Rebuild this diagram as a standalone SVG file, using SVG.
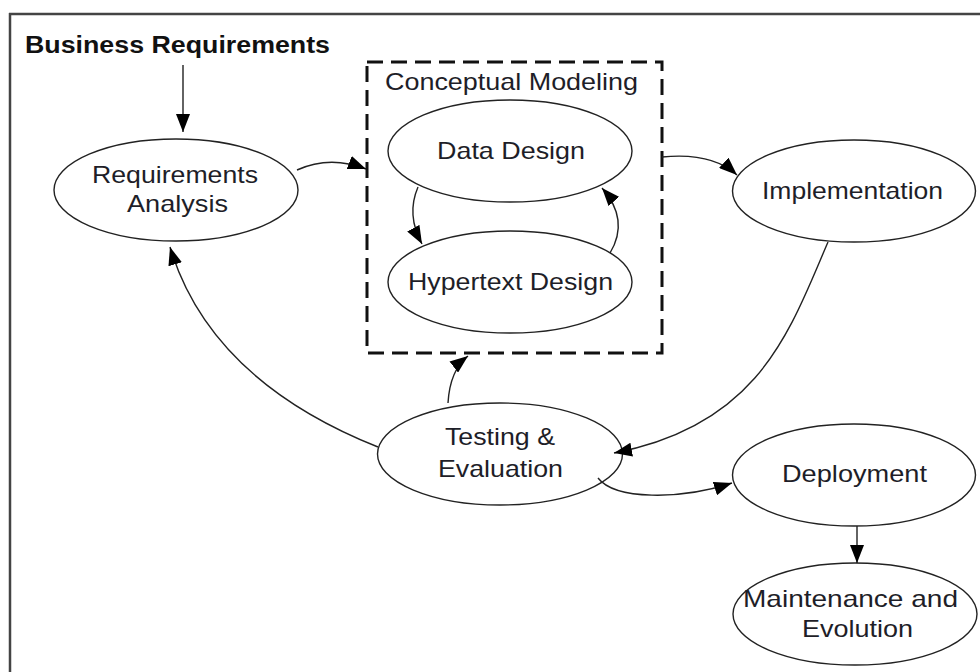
<svg xmlns="http://www.w3.org/2000/svg" width="980" height="672" viewBox="0 0 980 672">
<style>
.node{fill:#fff;stroke:#222;stroke-width:1.4}
.lbl{font-family:"Liberation Sans",Arial,sans-serif;font-size:24px;fill:#1e1e28}
.title{font-family:"Liberation Sans",Arial,sans-serif;font-size:23px;font-weight:bold;fill:#111}
.conn{fill:none;stroke:#222;stroke-width:1.4;marker-end:url(#ah)}
</style>
<defs>
<marker id="ah" viewBox="0 0 18 14" refX="18" refY="7" markerWidth="18" markerHeight="14" orient="auto" markerUnits="userSpaceOnUse">
<path d="M0,0 L18,7 L0,14 z" fill="#000"/>
</marker>
</defs>
<rect width="980" height="672" fill="#fff"/>
<g id="frame" stroke="#444" stroke-width="2.5" fill="none">
<line x1="9" y1="14" x2="980" y2="14"/>
<line x1="10" y1="13" x2="10" y2="672"/>
</g>
<g id="business-requirements">
<text class="title" x="25" y="53" textLength="305" lengthAdjust="spacingAndGlyphs">Business Requirements</text>
</g>
<g id="conceptual-modeling">
<rect x="367" y="62" width="295" height="291" fill="none" stroke="#111" stroke-width="3" stroke-dasharray="16 8"/>
<text class="lbl" x="385" y="90" textLength="253" lengthAdjust="spacingAndGlyphs">Conceptual Modeling</text>
</g>
<g id="requirements-analysis">
<ellipse class="node" cx="176" cy="190" rx="122" ry="51"/>
<text class="lbl" x="92" y="183" textLength="166" lengthAdjust="spacingAndGlyphs">Requirements</text>
<text class="lbl" x="127" y="212" textLength="101" lengthAdjust="spacingAndGlyphs">Analysis</text>
</g>
<g id="data-design">
<ellipse class="node" cx="510" cy="151" rx="122" ry="51"/>
<text class="lbl" x="437" y="159" textLength="148" lengthAdjust="spacingAndGlyphs">Data Design</text>
</g>
<g id="hypertext-design">
<ellipse class="node" cx="510" cy="282" rx="122" ry="51"/>
<text class="lbl" x="408" y="290" textLength="205" lengthAdjust="spacingAndGlyphs">Hypertext Design</text>
</g>
<g id="implementation">
<ellipse class="node" cx="854" cy="191" rx="121.5" ry="51"/>
<text class="lbl" x="762" y="199" textLength="181" lengthAdjust="spacingAndGlyphs">Implementation</text>
</g>
<g id="testing-evaluation">
<ellipse class="node" cx="500" cy="454" rx="122.5" ry="51"/>
<text class="lbl" x="445" y="445" textLength="110" lengthAdjust="spacingAndGlyphs">Testing &amp;</text>
<text class="lbl" x="438" y="477" textLength="125" lengthAdjust="spacingAndGlyphs">Evaluation</text>
</g>
<g id="deployment">
<ellipse class="node" cx="854" cy="475" rx="121.5" ry="51"/>
<text class="lbl" x="782" y="482" textLength="145" lengthAdjust="spacingAndGlyphs">Deployment</text>
</g>
<g id="maintenance-evolution">
<ellipse class="node" cx="855" cy="614" rx="122" ry="51"/>
<text class="lbl" x="743" y="607" textLength="215" lengthAdjust="spacingAndGlyphs">Maintenance and</text>
<text class="lbl" x="802" y="637" textLength="111" lengthAdjust="spacingAndGlyphs">Evolution</text>
</g>
<g id="connectors">
<path class="conn" d="M183,65 L183,132"/>
<path class="conn" d="M297,170 Q330,155 366,169"/>
<path class="conn" d="M418,187 Q406,215 422,244"/>
<path class="conn" d="M610,253 Q630,220 602,188"/>
<path class="conn" d="M662,157 Q712,152 737,175"/>
<path class="conn" d="M828,242 C790,330 760,425 614,453"/>
<path class="conn" d="M448,403 Q450,370 468,356"/>
<path class="conn" d="M378,447 Q210,380 170,247"/>
<path class="conn" d="M598,478 C615,500 680,500 732,483"/>
<path class="conn" d="M857,526 L857,563"/>
</g>
</svg>
